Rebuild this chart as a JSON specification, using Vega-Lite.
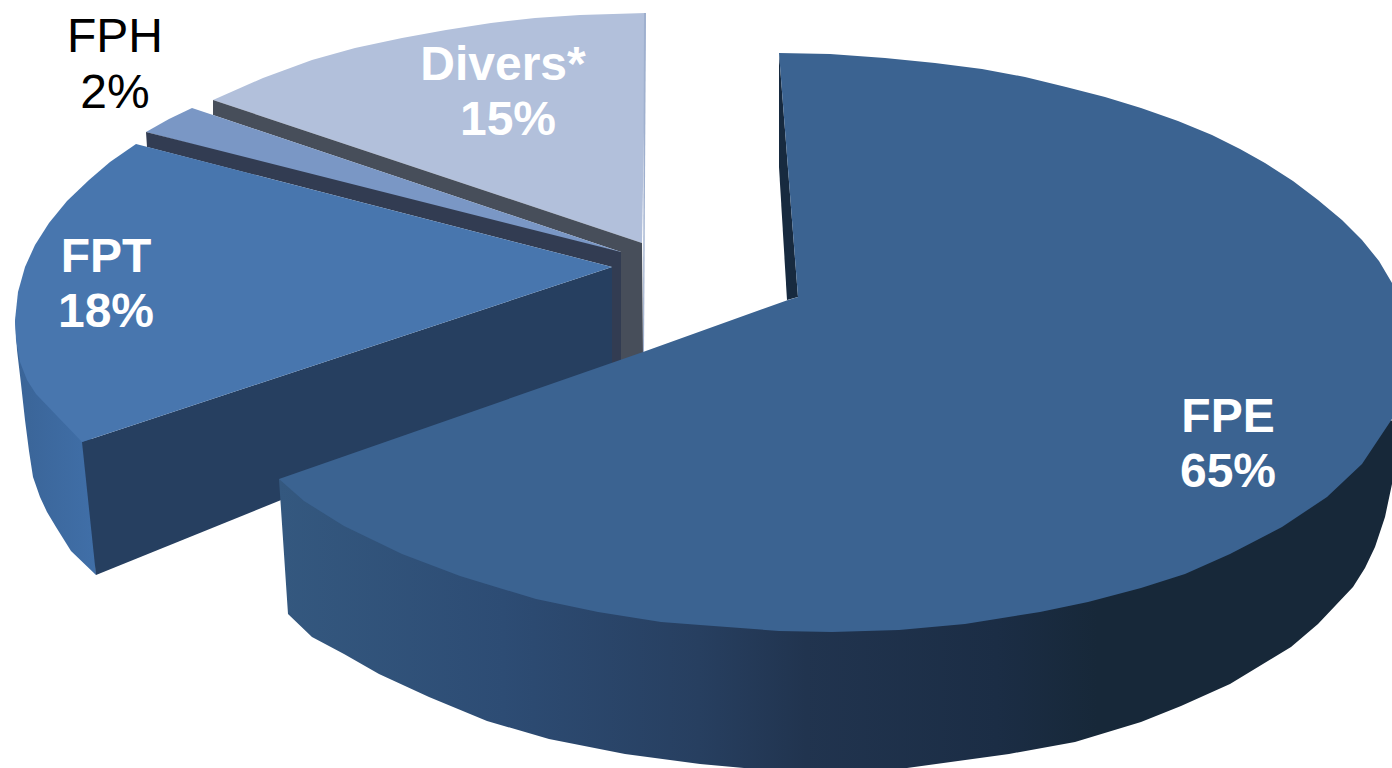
{"$schema":"https://vega.github.io/schema/vega-lite/v6.json","width":1392,"height":768,"padding":0,"autosize":{"type":"none"},"background":"white","config":{"view":{"stroke":null}},
"datasets":{
"fptEdge":[{"i":0,"x":15,"y":320},{"i":1,"x":17,"y":350},{"i":2,"x":21,"y":384},{"i":3,"x":25,"y":420},{"i":4,"x":29,"y":451},{"i":5,"x":33,"y":477},{"i":6,"x":40,"y":497},{"i":7,"x":47,"y":512},{"i":8,"x":56,"y":527},{"i":9,"x":71,"y":551},{"i":10,"x":96,"y":575},{"i":11,"x":90,"y":400}],
"back":[
{"part":"Divers top","i":0,"x":646,"y":13},{"part":"Divers top","i":1,"x":580,"y":15},{"part":"Divers top","i":2,"x":535,"y":18},{"part":"Divers top","i":3,"x":491,"y":23},{"part":"Divers top","i":4,"x":446,"y":30},{"part":"Divers top","i":5,"x":402,"y":38},{"part":"Divers top","i":6,"x":355,"y":48},{"part":"Divers top","i":7,"x":312,"y":60},{"part":"Divers top","i":8,"x":263,"y":78},{"part":"Divers top","i":9,"x":213,"y":100},{"part":"Divers top","i":10,"x":642,"y":243},
{"part":"Divers wall","i":0,"x":213,"y":100},{"part":"Divers wall","i":1,"x":213,"y":115},{"part":"Divers wall","i":2,"x":621,"y":252},{"part":"Divers wall","i":3,"x":621,"y":362},{"part":"Divers wall","i":4,"x":643,"y":356},{"part":"Divers wall","i":5,"x":642,"y":243},
{"part":"Divers edge","i":0,"x":644,"y":13},{"part":"Divers edge","i":1,"x":646,"y":13},{"part":"Divers edge","i":2,"x":644,"y":352},{"part":"Divers edge","i":3,"x":643,"y":352},
{"part":"FPH top","i":0,"x":192,"y":108},{"part":"FPH top","i":1,"x":169,"y":119},{"part":"FPH top","i":2,"x":146,"y":132},{"part":"FPH top","i":3,"x":612,"y":256},{"part":"FPH top","i":4,"x":621,"y":252},{"part":"FPH top","i":5,"x":213,"y":115},
{"part":"FPH wall","i":0,"x":146,"y":132},{"part":"FPH wall","i":1,"x":147,"y":147},{"part":"FPH wall","i":2,"x":612,"y":267},{"part":"FPH wall","i":3,"x":612,"y":366},{"part":"FPH wall","i":4,"x":621,"y":362},{"part":"FPH wall","i":5,"x":621,"y":252},
{"part":"FPT inner","i":0,"x":82,"y":442},{"part":"FPT inner","i":1,"x":96,"y":575},{"part":"FPT inner","i":2,"x":612,"y":366},{"part":"FPT inner","i":3,"x":612,"y":267},
{"part":"FPT top","i":0,"x":136,"y":144},{"part":"FPT top","i":1,"x":110,"y":162},{"part":"FPT top","i":2,"x":89,"y":180},{"part":"FPT top","i":3,"x":67,"y":201},{"part":"FPT top","i":4,"x":49,"y":223},{"part":"FPT top","i":5,"x":35,"y":245},{"part":"FPT top","i":6,"x":25,"y":267},{"part":"FPT top","i":7,"x":18,"y":292},{"part":"FPT top","i":8,"x":15,"y":320},{"part":"FPT top","i":9,"x":16,"y":340},{"part":"FPT top","i":10,"x":20,"y":362},{"part":"FPT top","i":11,"x":27,"y":380},{"part":"FPT top","i":12,"x":36,"y":394},{"part":"FPT top","i":13,"x":58,"y":417},{"part":"FPT top","i":14,"x":82,"y":442},{"part":"FPT top","i":15,"x":612,"y":267}],
"fpeEdge":[{"i":0,"x":279,"y":479},{"i":1,"x":288,"y":614},{"i":2,"x":312,"y":637},{"i":3,"x":344,"y":654},{"i":4,"x":379,"y":674},{"i":5,"x":429,"y":697},{"i":6,"x":487,"y":721},{"i":7,"x":549,"y":739},{"i":8,"x":625,"y":754},{"i":9,"x":700,"y":764},{"i":10,"x":744,"y":768},{"i":11,"x":830,"y":772},{"i":12,"x":907,"y":768},{"i":13,"x":1009,"y":754},{"i":14,"x":1075,"y":742},{"i":15,"x":1141,"y":722},{"i":16,"x":1181,"y":706},{"i":17,"x":1230,"y":684},{"i":18,"x":1291,"y":647},{"i":19,"x":1318,"y":624},{"i":20,"x":1353,"y":587},{"i":21,"x":1365,"y":568},{"i":22,"x":1375,"y":547},{"i":23,"x":1385,"y":517},{"i":24,"x":1392,"y":484},{"i":25,"x":1400,"y":420}],
"front":[
{"part":"FPE inner","i":0,"x":779,"y":53},{"part":"FPE inner","i":1,"x":779,"y":167},{"part":"FPE inner","i":2,"x":782,"y":217},{"part":"FPE inner","i":3,"x":787,"y":300},{"part":"FPE inner","i":4,"x":798,"y":297},
{"part":"FPE top","i":0,"x":779,"y":53},{"part":"FPE top","i":1,"x":830,"y":54},{"part":"FPE top","i":2,"x":885,"y":58},{"part":"FPE top","i":3,"x":935,"y":63},{"part":"FPE top","i":4,"x":982,"y":69},{"part":"FPE top","i":5,"x":1025,"y":77},{"part":"FPE top","i":6,"x":1066,"y":87},{"part":"FPE top","i":7,"x":1105,"y":97},{"part":"FPE top","i":8,"x":1141,"y":108},{"part":"FPE top","i":9,"x":1178,"y":121},{"part":"FPE top","i":10,"x":1212,"y":135},{"part":"FPE top","i":11,"x":1240,"y":149},{"part":"FPE top","i":12,"x":1265,"y":163},{"part":"FPE top","i":13,"x":1293,"y":181},{"part":"FPE top","i":14,"x":1318,"y":200},{"part":"FPE top","i":15,"x":1342,"y":220},{"part":"FPE top","i":16,"x":1362,"y":240},{"part":"FPE top","i":17,"x":1379,"y":261},{"part":"FPE top","i":18,"x":1392,"y":283},{"part":"FPE top","i":19,"x":1405,"y":320},{"part":"FPE top","i":20,"x":1412,"y":360},{"part":"FPE top","i":21,"x":1408,"y":395},{"part":"FPE top","i":22,"x":1392,"y":419},{"part":"FPE top","i":23,"x":1380,"y":437},{"part":"FPE top","i":24,"x":1362,"y":464},{"part":"FPE top","i":25,"x":1327,"y":497},{"part":"FPE top","i":26,"x":1282,"y":527},{"part":"FPE top","i":27,"x":1230,"y":554},{"part":"FPE top","i":28,"x":1185,"y":574},{"part":"FPE top","i":29,"x":1141,"y":588},{"part":"FPE top","i":30,"x":1088,"y":602},{"part":"FPE top","i":31,"x":1040,"y":612},{"part":"FPE top","i":32,"x":965,"y":624},{"part":"FPE top","i":33,"x":899,"y":630},{"part":"FPE top","i":34,"x":832,"y":632},{"part":"FPE top","i":35,"x":779,"y":631},{"part":"FPE top","i":36,"x":700,"y":625},{"part":"FPE top","i":37,"x":661,"y":622},{"part":"FPE top","i":38,"x":598,"y":612},{"part":"FPE top","i":39,"x":536,"y":599},{"part":"FPE top","i":40,"x":460,"y":576},{"part":"FPE top","i":41,"x":402,"y":554},{"part":"FPE top","i":42,"x":344,"y":526},{"part":"FPE top","i":43,"x":304,"y":501},{"part":"FPE top","i":44,"x":279,"y":479},{"part":"FPE top","i":45,"x":643,"y":352},{"part":"FPE top","i":46,"x":788,"y":300},{"part":"FPE top","i":47,"x":798,"y":297}],
"boldLabels":[
{"text":"FPE","x":1228,"y":432},{"text":"65%","x":1228,"y":487},
{"text":"FPT","x":106,"y":272},{"text":"18%","x":106,"y":327},
{"text":"Divers*","x":503,"y":80},{"text":"15%","x":508,"y":135}],
"plainLabels":[{"text":"FPH","x":115,"y":52},{"text":"2%","x":115,"y":108}]
},
"layer":[
{"data":{"name":"fptEdge"},"mark":{"type":"line","clip":true,"strokeWidth":0,"fill":{"gradient":"linear","x1":0,"y1":0,"x2":1,"y2":0,"stops":[{"offset":0,"color":"#3A6497"},{"offset":1,"color":"#406FA8"}]}},
"encoding":{"x":{"field":"x","type":"quantitative","scale":{"domain":[0,1392]},"axis":null},"y":{"field":"y","type":"quantitative","scale":{"domain":[768,0]},"axis":null},"order":{"field":"i"}}},
{"data":{"name":"back"},"mark":{"type":"line","clip":true,"strokeWidth":1,"filled":true},
"encoding":{"x":{"field":"x","type":"quantitative","scale":{"domain":[0,1392]},"axis":null},"y":{"field":"y","type":"quantitative","scale":{"domain":[768,0]},"axis":null},"order":{"field":"i"},"detail":{"field":"part"},
"fill":{"field":"part","type":"nominal","legend":null,"scale":{"domain":["Divers top","Divers wall","Divers edge","FPH top","FPH wall","FPT inner","FPT top","FPE inner","FPE top"],"range":["#B2C0DB","#474E5A","#9FB0CE","#7A97C5","#323C52","#263F60","#4876AE","#172A3F","#3B6391"]}}}},
{"data":{"name":"fpeEdge"},"mark":{"type":"line","clip":true,"strokeWidth":0,"fill":{"gradient":"linear","x1":0,"y1":0,"x2":1,"y2":0,"stops":[{"offset":0,"color":"#34587F"},{"offset":0.2,"color":"#2D4C74"},{"offset":0.375,"color":"#273F60"},{"offset":0.47,"color":"#21344F"},{"offset":0.64,"color":"#1B2D45"},{"offset":0.73,"color":"#172839"},{"offset":1,"color":"#172839"}]}},
"encoding":{"x":{"field":"x","type":"quantitative","scale":{"domain":[0,1392]},"axis":null},"y":{"field":"y","type":"quantitative","scale":{"domain":[768,0]},"axis":null},"order":{"field":"i"}}},
{"data":{"name":"front"},"mark":{"type":"line","clip":true,"strokeWidth":1,"filled":true},
"encoding":{"x":{"field":"x","type":"quantitative","scale":{"domain":[0,1392]},"axis":null},"y":{"field":"y","type":"quantitative","scale":{"domain":[768,0]},"axis":null},"order":{"field":"i"},"detail":{"field":"part"},
"fill":{"field":"part","type":"nominal","legend":null,"scale":{"domain":["Divers top","Divers wall","Divers edge","FPH top","FPH wall","FPT inner","FPT top","FPE inner","FPE top"],"range":["#B2C0DB","#474E5A","#9FB0CE","#7A97C5","#323C52","#263F60","#4876AE","#172A3F","#3B6391"]}}}},
{"data":{"name":"boldLabels"},"mark":{"type":"text","font":"Liberation Sans","fontSize":48,"fontWeight":"bold","align":"center","baseline":"alphabetic","color":"white"},
"encoding":{"x":{"field":"x","type":"quantitative","scale":{"domain":[0,1392]},"axis":null},"y":{"field":"y","type":"quantitative","scale":{"domain":[768,0]},"axis":null},"text":{"field":"text"}}},
{"data":{"name":"plainLabels"},"mark":{"type":"text","font":"Liberation Sans","fontSize":48,"align":"center","baseline":"alphabetic","color":"black"},
"encoding":{"x":{"field":"x","type":"quantitative","scale":{"domain":[0,1392]},"axis":null},"y":{"field":"y","type":"quantitative","scale":{"domain":[768,0]},"axis":null},"text":{"field":"text"}}}
]}
